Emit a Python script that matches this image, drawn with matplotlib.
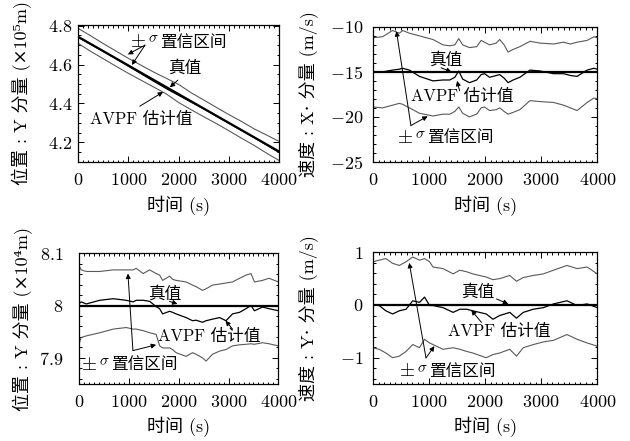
import matplotlib
matplotlib.use('Agg')
import matplotlib.pyplot as plt
from matplotlib.ticker import MultipleLocator, AutoMinorLocator, FuncFormatter

plt.rcParams['font.family'] = ['cmr10', 'DejaVu Serif', 'Noto Sans CJK SC']
plt.rcParams['mathtext.fontset'] = 'cm'
plt.rcParams['axes.unicode_minus'] = False
plt.rcParams['axes.formatter.use_mathtext'] = True

# ---- 位置 Y 分量 (x1e5 m) ----
t1_true = [0, 4000]
y1_true = [4.743, 4.153]
t1_est = [0, 500, 1000, 1500, 1800, 2000, 2500, 3000, 3500, 4000]
y1_est = [4.740, 4.668, 4.592, 4.515, 4.470, 4.442, 4.372, 4.298, 4.225, 4.148]
t1_band = [0, 250, 500, 750, 1000, 1250, 1500, 1750, 2000, 2250, 2500,
           2750, 3000, 3250, 3500, 3750, 4000]
y1_up = [4.786, 4.748, 4.708, 4.670, 4.632, 4.597, 4.562, 4.530, 4.498,
         4.455, 4.418, 4.380, 4.343, 4.308, 4.270, 4.238, 4.205]
y1_lo = [4.709, 4.668, 4.630, 4.592, 4.555, 4.520, 4.485, 4.450, 4.405,
         4.368, 4.332, 4.297, 4.260, 4.222, 4.185, 4.145, 4.107]

# ---- 速度 X 分量 (m/s) ----
t2 = [0, 170, 350, 470, 530, 650, 830, 1070, 1250, 1370, 1460, 1530, 1600,
      1720, 1850, 1930, 1990, 2080, 2200, 2260, 2340, 2410, 2500, 2620, 2800,
      2980, 3220, 3400, 3520, 3640, 3820, 3940, 4000]
up2 = [-11.2, -11.1, -10.4, -10.7, -10.4, -10.7, -11.0, -11.4, -12.0, -12.1,
       -12.0, -11.3, -12.0, -12.3, -12.2, -11.5, -11.7, -12.0, -11.8, -11.4,
       -12.0, -12.8, -12.5, -12.2, -11.6, -11.8, -11.9, -11.7, -11.9, -11.7,
       -11.5, -11.1, -11.2]
est2 = [-15.0, -15.0, -14.8, -14.7, -14.6, -14.8, -15.5, -16.0, -15.9, -15.9,
        -15.6, -14.9, -15.8, -16.2, -15.9, -15.3, -15.2, -15.6, -15.4, -15.3,
        -15.7, -16.2, -15.9, -15.6, -14.8, -14.9, -15.2, -15.2, -15.4, -15.5,
        -14.8, -14.6, -14.7]
lo2 = [-18.9, -19.0, -18.7, -18.5, -18.6, -19.0, -19.6, -19.9, -19.7, -19.7,
       -19.4, -18.9, -19.6, -20.0, -19.7, -19.0, -18.9, -19.3, -19.2, -19.0,
       -19.4, -19.7, -19.5, -19.2, -18.2, -18.3, -18.4, -18.7, -19.0, -19.3,
       -18.4, -17.9, -18.0]
t2_true = [0, 4000]
y2_true = [-15, -15]

# ---- 位置 Y 分量 (x1e4 m) ----
t3 = [0, 50, 150, 420, 690, 950, 1090, 1150, 1290, 1420, 1550, 1620, 1680,
      1820, 1880, 1950, 2150, 2280, 2350, 2480, 2550, 2680, 2820, 2950, 3080,
      3220, 3350, 3450, 3520, 3680, 3810, 4000]
up3 = [8.077, 8.068, 8.065, 8.065, 8.068, 8.068, 8.068, 8.071, 8.061, 8.068,
       8.061, 8.058, 8.048, 8.056, 8.050, 8.048, 8.045, 8.039, 8.036, 8.029,
       8.032, 8.039, 8.041, 8.043, 8.045, 8.052, 8.058, 8.061, 8.045, 8.048,
       8.052, 8.045]
est3 = [8.003, 8.007, 8.003, 8.010, 8.013, 8.010, 8.007, 8.010, 8.010, 8.008,
        7.998, 7.994, 7.984, 7.989, 7.987, 7.984, 7.977, 7.971, 7.972, 7.968,
        7.971, 7.974, 7.977, 7.971, 7.984, 7.987, 7.994, 8.000, 7.990, 7.997,
        7.994, 7.990]
lo3 = [7.926, 7.939, 7.942, 7.948, 7.955, 7.958, 7.955, 7.955, 7.952, 7.948,
       7.945, 7.923, 7.919, 7.919, 7.916, 7.910, 7.903, 7.910, 7.907, 7.900,
       7.894, 7.907, 7.913, 7.916, 7.923, 7.925, 7.926, 7.927, 7.926, 7.929,
       7.927, 7.923]
t3_true = [0, 4000]
y3_true = [8.0, 8.0]

# ---- 速度 Y 分量 (m/s) ----
t4 = [0, 110, 230, 350, 470, 590, 710, 830, 920, 1010, 1070, 1250, 1430, 1550,
      1670, 1780, 2020, 2140, 2260, 2440, 2560, 2680, 2860, 3040, 3220, 3460,
      3640, 3820, 4000]
up4 = [0.82, 0.85, 0.88, 0.79, 0.75, 0.82, 0.91, 0.85, 0.88, 0.82, 0.72, 0.69,
       0.59, 0.66, 0.63, 0.59, 0.53, 0.48, 0.50, 0.56, 0.45, 0.52, 0.56, 0.59,
       0.66, 0.75, 0.69, 0.72, 0.59]
est4 = [0.0, -0.01, -0.11, -0.17, -0.11, -0.08, 0.08, 0.05, 0.15, -0.01, -0.01,
        -0.05, -0.14, -0.08, -0.08, -0.11, -0.17, -0.27, -0.20, -0.14, -0.25,
        -0.14, -0.08, -0.05, 0.02, 0.08, -0.01, 0.02, -0.05]
lo4 = [-0.81, -0.84, -0.91, -1.00, -0.97, -0.88, -0.75, -0.81, -0.65, -0.72,
       -0.75, -0.84, -0.81, -0.84, -0.88, -0.91, -1.00, -0.94, -0.91, -0.84,
       -0.97, -0.81, -0.75, -0.70, -0.67, -0.56, -0.65, -0.72, -0.78]
t4_true = [0, 4000]
y4_true = [0, 0]

fig = plt.figure(figsize=(6.3, 4.41), dpi=100)
ax1 = fig.add_axes([0.124, 0.633, 0.319, 0.311])
ax2 = fig.add_axes([0.592, 0.633, 0.356, 0.306])
ax3 = fig.add_axes([0.125, 0.129, 0.317, 0.297])
ax4 = fig.add_axes([0.592, 0.129, 0.356, 0.299])

fmt = FuncFormatter(lambda v, p: '$%g$' % round(v, 6))
arrow = dict(arrowstyle='-|>', lw=0.7, color='k', mutation_scale=7,
             shrinkA=0, shrinkB=0)
FS = 12


def style(ax, ylim, ymaj, yminor, ylabel, ypad, lx):
    ax.set_xlim(0, 4000)
    ax.set_ylim(*ylim)
    ax.xaxis.set_major_locator(MultipleLocator(1000))
    ax.xaxis.set_minor_locator(MultipleLocator(100))
    ax.yaxis.set_major_locator(MultipleLocator(ymaj))
    ax.yaxis.set_minor_locator(AutoMinorLocator(yminor))
    ax.xaxis.set_major_formatter(fmt)
    ax.yaxis.set_major_formatter(fmt)
    ax.tick_params(which='both', direction='in', top=True, right=True,
                   labelsize=13, width=0.7)
    ax.tick_params(which='major', length=4)
    ax.tick_params(which='minor', length=1.8)
    ax.tick_params(axis='x', pad=7)
    ax.tick_params(axis='y', pad=ypad)
    for s in ax.spines.values():
        s.set_linewidth(0.9)
    ax.set_xlabel('时间 (s)', fontsize=13)
    ax.xaxis.set_label_coords(0.5, -0.25)
    ax.set_ylabel(ylabel, fontsize=13)
    ax.yaxis.set_label_coords(lx, 0.5)


def curves(ax, tt, yt, te, ye, tb, yu, yl):
    ax.plot(tb, yu, color='0.35', lw=0.8)
    ax.plot(tb, yl, color='0.35', lw=0.8)
    ax.plot(te, ye, color='k', lw=0.9)
    ax.plot(tt, yt, color='k', lw=1.6)


def sigma_label(ax, x, y):
    pm = ax.text(x, y, '$\\pm$', fontsize=14, va='center')
    sg = ax.annotate('$\\sigma$', xy=(1, 0.5), xycoords=pm, xytext=(1.5, 2.5),
                     textcoords='offset points', fontsize=11, va='center')
    ax.annotate('置信区间', xy=(1, 0.5), xycoords=(sg, pm), xytext=(1, 0),
                textcoords='offset points', fontsize=FS, va='center')


curves(ax1, t1_true, y1_true, t1_est, y1_est, t1_band, y1_up, y1_lo)
curves(ax2, t2_true, y2_true, t2, est2, t2, up2, lo2)
curves(ax3, t3_true, y3_true, t3, est3, t3, up3, lo3)
curves(ax4, t4_true, y4_true, t4, est4, t4, up4, lo4)

style(ax1, (4.1, 4.805), 0.2, 4, '位置 : Y 分量 (×10⁵m)', 4, -0.23)
style(ax2, (-25, -10), 5, 5, '速度 : X⋅ 分量 (m/s)', 7, -0.245)
style(ax3, (7.85, 8.1), 0.1, 5, '位置 : Y 分量 (×10⁴m)', 11, -0.23)
style(ax4, (-1.5, 1), 1, 5, '速度 : Y⋅ 分量 (m/s)', 7, -0.245)

# panel 1 annotations
sigma_label(ax1, 1030, 4.714)
ax1.annotate('', xy=(990, 4.652), xytext=(1330, 4.700), arrowprops=arrow)
ax1.annotate('', xy=(1070, 4.598), xytext=(1330, 4.700), arrowprops=arrow)
ax1.text(2120, 4.585, '真值', fontsize=FS, ha='center', va='center')
ax1.annotate('', xy=(1826, 4.483), xytext=(1985, 4.52), arrowprops=arrow)
ax1.text(232, 4.317, 'AVPF 估计值', fontsize=FS, va='center')
ax1.annotate('', xy=(1691, 4.459), xytext=(1227, 4.386), arrowprops=arrow)

# panel 2 annotations
sigma_label(ax2, 437, -22.3)
ax2.annotate('', xy=(419, -10.48), xytext=(677, -20.96), arrowprops=arrow)
ax2.annotate('', xy=(976, -19.93), xytext=(677, -20.96), arrowprops=arrow)
ax2.text(1305, -13.7, '真值', fontsize=FS, ha='center', va='center')
ax2.annotate('', xy=(1400, -15.0), xytext=(1215, -14.55), arrowprops=arrow)
ax2.text(677, -17.7, 'AVPF 估计值', fontsize=FS, va='center')
ax2.annotate('', xy=(1500, -16.0), xytext=(1545, -17.1), arrowprops=arrow)

# panel 3 annotations
sigma_label(ax3, 53, 7.887)
ax3.annotate('', xy=(985, 8.061), xytext=(1085, 7.914), arrowprops=arrow)
ax3.annotate('', xy=(1550, 7.925), xytext=(1085, 7.914), arrowprops=arrow)
ax3.text(1717, 8.0226, '真值', fontsize=FS, ha='center', va='center')
ax3.annotate('', xy=(1977, 8.003), xytext=(1817, 8.008), arrowprops=arrow)
ax3.text(1584, 7.942, 'AVPF 估计值', fontsize=FS, va='center')
ax3.annotate('', xy=(2940, 7.971), xytext=(3080, 7.955), arrowprops=arrow)

# panel 4 annotations
sigma_label(ax4, 467, -1.26)
ax4.annotate('', xy=(647, 0.799), xytext=(946, -1.003), arrowprops=arrow)
ax4.annotate('', xy=(1096, -0.78), xytext=(946, -1.003), arrowprops=arrow)
ax4.text(1874, 0.243, '真值', fontsize=FS, ha='center', va='center')
ax4.annotate('', xy=(2413, 0.02), xytext=(2204, 0.115), arrowprops=arrow)
ax4.text(1335, -0.49, 'AVPF 估计值', fontsize=FS, va='center')
ax4.annotate('', xy=(1754, -0.096), xytext=(1934, -0.33), arrowprops=arrow)

fig.savefig('out.png', dpi=100)
